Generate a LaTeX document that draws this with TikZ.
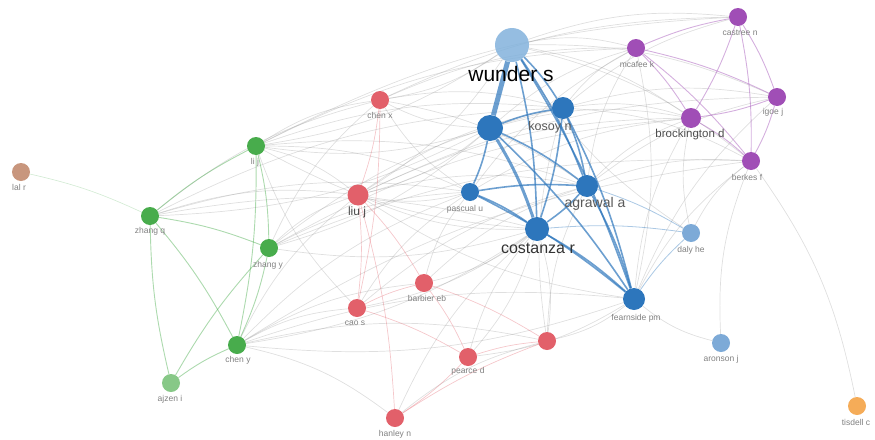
\documentclass[tikz,border=0pt]{standalone}
\usepackage{fontspec}
\setmainfont{Liberation Sans}
\usetikzlibrary{backgrounds}
\definecolor{cblue}{RGB}{45,118,188}
\definecolor{clblue}{RGB}{125,170,215}
\definecolor{cwund}{RGB}{130,178,220}
\definecolor{cpurp}{RGB}{160,78,182}
\definecolor{cred}{RGB}{226,96,106}
\definecolor{cgreen}{RGB}{72,172,76}
\definecolor{clgreen}{RGB}{135,200,135}
\definecolor{cbrown}{RGB}{200,150,125}
\definecolor{corange}{RGB}{245,172,88}
\definecolor{cedge}{RGB}{150,150,150}
\tikzset{
  vnode/.style={circle,inner sep=0pt,minimum size=18pt,fill=#1},
  lbl/.style={text=black!50,font=\fontsize{8.5}{9}\selectfont,inner sep=0pt},
  gedge/.style={draw=cedge,opacity=0.3,line width=0.7pt,bend left=12},
  bedge/.style={draw=cblue,opacity=0.7,line width=1.6pt,bend left=6},
  pedge/.style={draw=cpurp,opacity=0.45,line width=0.9pt,bend left=6},
  gredge/.style={draw=cgreen,opacity=0.45,line width=0.9pt,bend left=6},
  redge/.style={draw=cred,opacity=0.35,line width=0.7pt,bend left=6},
}
\begin{document}
\begin{tikzpicture}[x=1pt,y=-1pt]
\useasboundingbox (0,0) rectangle (875,439);
% nodes
\node[vnode=cwund,minimum size=34pt,opacity=0.85] (wun) at (512,45) {};
\node[vnode=cblue,minimum size=26pt] (ub) at (490,128) {};
\node[vnode=cblue,minimum size=22pt] (kos) at (563,108) {};
\node[vnode=cblue,minimum size=22pt] (agr) at (587,186) {};
\node[vnode=cblue] (pas) at (470,192) {};
\node[vnode=cblue,minimum size=24pt] (cos) at (537,229) {};
\node[vnode=cblue,minimum size=22pt] (fea) at (634,299) {};
\node[vnode=clblue] (dal) at (691,233) {};
\node[vnode=clblue] (aro) at (721,343) {};
\node[vnode=cpurp] (mca) at (636,48) {};
\node[vnode=cpurp] (cas) at (738,17) {};
\node[vnode=cpurp] (igo) at (777,97) {};
\node[vnode=cpurp,minimum size=20pt] (bro) at (691,118) {};
\node[vnode=cpurp] (ber) at (751,161) {};
\node[vnode=cred] (chx) at (380,100) {};
\node[vnode=cred,minimum size=21pt] (liu) at (358,195) {};
\node[vnode=cred] (bar) at (424,283) {};
\node[vnode=cred] (cao) at (357,308) {};
\node[vnode=cred] (pea) at (468,357) {};
\node[vnode=cred] (rr) at (547,341) {};
\node[vnode=cred] (han) at (395,418) {};
\node[vnode=cgreen] (lij) at (256,146) {};
\node[vnode=cgreen] (zhq) at (150,216) {};
\node[vnode=cgreen] (zhy) at (269,248) {};
\node[vnode=cgreen] (chy) at (237,345) {};
\node[vnode=clgreen] (ajz) at (171,383) {};
\node[vnode=cbrown] (lal) at (21,172) {};
\node[vnode=corange] (tis) at (857,406) {};
% labels
\node[inner sep=0pt,font=\fontsize{21}{22}\selectfont] (t1) at (511,74) {wunder s};
\node[lbl,text=black!65,font=\fontsize{12.5}{13}\selectfont] (t2) at (550,127) {kosoy n};
\node[lbl,text=black!65,font=\fontsize{14}{15}\selectfont] (t3) at (595,204) {agrawal a};
\node[lbl] (t4) at (465,209) {pascual u};
\node[lbl,text=black!80,font=\fontsize{16}{17}\selectfont] (t5) at (538,248) {costanza r};
\node[lbl] (t6) at (636,318) {fearnside pm};
\node[lbl] (t7) at (691,250) {daly he};
\node[lbl] (t8) at (721,359) {aronson j};
\node[lbl] (t9) at (637,64) {mcafee k};
\node[lbl] (t10) at (740,33) {castree n};
\node[lbl] (t11) at (773,112) {igoe j};
\node[lbl,text=black!70,font=\fontsize{11.5}{12}\selectfont] (t12) at (690,135) {brockington d};
\node[lbl] (t13) at (747,177) {berkes f};
\node[lbl] (t14) at (380,115) {chen x};
\node[lbl,text=black!70,font=\fontsize{12}{13}\selectfont] (t15) at (357,212) {liu j};
\node[lbl] (t16) at (427,298) {barbier eb};
\node[lbl] (t17) at (355,323) {cao s};
\node[lbl] (t18) at (468,371) {pearce d};
\node[lbl] (t19) at (395,434) {hanley n};
\node[lbl] (t20) at (255,162) {li j};
\node[lbl] (t21) at (150,231) {zhang q};
\node[lbl] (t22) at (268,265) {zhang y};
\node[lbl] (t23) at (238,360) {chen y};
\node[lbl] (t24) at (170,399) {ajzen i};
\node[lbl] (t25) at (19,187) {lal r};
\node[lbl] (t26) at (856,422) {tisdell c};
\begin{scope}[on background layer]
% gray inter-cluster edges
\foreach \a/\b in {wun/chx,wun/lij,wun/mca,wun/cas,wun/igo,wun/bro,wun/liu,wun/ber,
  ub/lij,ub/zhq,ub/liu,ub/chx,ub/zhy,ub/mca,ub/bro,kos/bro,kos/igo,kos/mca,kos/cas,kos/ber,
  cos/liu,cos/chy,cos/zhy,cos/cao,cos/pea,cos/bar,cos/lij,cos/rr,agr/bro,agr/ber,agr/igo,agr/mca,
  fea/ber,fea/bro,fea/chy,fea/liu,fea/igo,fea/rr,fea/pea,lij/liu,lij/pas,lij/chx,lij/kos,lij/agr,
  zhy/liu,zhy/pas,zhy/chx,zhy/kos,chy/cao,chy/rr,chy/pas,chy/han,chy/liu,chy/bar,
  pas/liu,pas/chx,pas/mca,pas/bro,liu/agr,liu/kos,chx/mca,chx/kos,chx/agr,
  zhq/liu,zhq/pas,zhq/cos,zhq/chx,bar/agr,bar/pas,rr/agr,rr/kos,pea/cos,
  dal/bro,dal/ber,dal/wun,aro/fea,aro/ber,ber/tis,cao/lij,cao/pas,han/cos,han/rr,
  lij/cas,chx/cas,liu/bro,zhy/ber,chy/ber,mca/fea,lij/mca,zhq/kos,liu/igo,zhy/bro,chy/fea,cao/agr}
  \path[gedge] (\a) to (\b);
% blue edges
\path[bedge,line width=5pt,bend left=0] (wun) to (ub);
\foreach \a/\b in {wun/kos,wun/agr,wun/cos,wun/fea,ub/kos,ub/agr,ub/fea,ub/pas,
  kos/agr,kos/fea,kos/cos,agr/fea,agr/cos,cos/fea,pas/cos,pas/agr,pas/fea}
  \path[bedge] (\a) to (\b);
\path[bedge,line width=3pt] (ub) to (cos);
\foreach \a/\b in {cos/dal,agr/dal,fea/dal}
  \path[bedge,line width=0.8pt,opacity=0.4] (\a) to (\b);
% purple edges
\foreach \a/\b in {mca/cas,mca/igo,mca/bro,mca/ber,cas/igo,cas/bro,cas/ber,igo/bro,igo/ber,bro/ber}
  \path[pedge] (\a) to (\b);
% green edges
\foreach \a/\b in {lij/zhy,lij/chy,zhq/zhy,zhq/chy,zhy/chy,ajz/zhq,ajz/chy,zhq/lij,ajz/zhy}
  \path[gredge] (\a) to (\b);
\path[gredge,opacity=0.25,line width=0.6pt] (lal) to (zhq);
% red edges
\foreach \a/\b in {chx/liu,liu/cao,cao/bar,bar/pea,pea/han,han/rr,pea/rr,bar/rr,cao/pea,liu/han,chx/cao,liu/bar}
  \path[redge] (\a) to (\b);
\end{scope}
\end{tikzpicture}
\end{document}
